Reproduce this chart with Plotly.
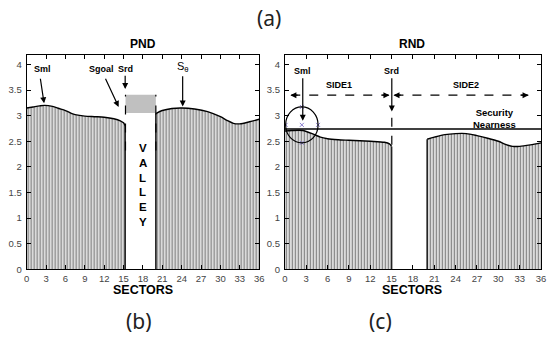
import plotly.graph_objects as go

# ---------------- data ----------------
x_ticks = [0, 3, 6, 9, 12, 15, 18, 21, 24, 27, 30, 33, 36]
y_ticks = [0, 0.5, 1, 1.5, 2, 2.5, 3, 3.5, 4]
y_tick_labels = ["0", "0.5", "1", "1.5", "2", "2.5", "3", "3.5", "4"]

# PND (b)
pnd_sectors_1 = [0, 1, 2, 2.8, 4, 5, 6, 7, 7.5, 9, 10.5, 12, 13.5, 14.5, 15, 15.25]
pnd_values_1 = [3.15, 3.17, 3.19, 3.20, 3.18, 3.14, 3.10, 3.04, 3.02, 2.99, 2.98, 2.97, 2.94, 2.90, 2.86, 2.80]
pnd_sectors_2 = [20.0, 21, 22.5, 24, 26, 28, 30, 31, 32, 33, 34.5, 36]
pnd_values_2 = [3.04, 3.10, 3.14, 3.15, 3.13, 3.08, 2.98, 2.91, 2.85, 2.84, 2.88, 2.93]

# RND (c)
rnd_sectors_1 = [0, 1, 2.5, 4, 5, 6, 7.5, 9, 12, 14, 14.7, 15]
rnd_values_1 = [2.70, 2.71, 2.71, 2.64, 2.58, 2.55, 2.53, 2.52, 2.50, 2.48, 2.45, 2.40]
rnd_sectors_2 = [20, 21, 22.5, 24, 25.5, 27, 28.5, 30, 31, 32, 33, 34.5, 36]
rnd_values_2 = [2.54, 2.58, 2.63, 2.65, 2.65, 2.61, 2.56, 2.50, 2.44, 2.40, 2.40, 2.43, 2.47]

security_nearness = 2.74
valley_letters = ["V", "A", "L", "L", "E", "Y"]

# --------------- figure ---------------
W, H = 549, 348
FONT = "Liberation Sans, Arial, sans-serif"
fig = go.Figure()

pattern = dict(shape="|", size=3, solidity=0.45, fgcolor="#111111", bgcolor="#ececec")

def add_segment(xs, ys, xa, ya):
    fig.add_trace(go.Scatter(
        x=xs, y=ys, xaxis=xa, yaxis=ya, mode="lines",
        line=dict(color="black", width=1.4, shape="spline", smoothing=0.8),
        fill="tozeroy", fillcolor="#ececec", fillpattern=pattern,
        hoverinfo="skip", showlegend=False))

add_segment(pnd_sectors_1, pnd_values_1, "x", "y")
add_segment(pnd_sectors_2, pnd_values_2, "x", "y")
add_segment(rnd_sectors_1, rnd_values_1, "x2", "y2")
add_segment(rnd_sectors_2, rnd_values_2, "x2", "y2")

# purple selection marks around the circle
circ_cx, circ_cy, circ_rx, circ_ry = 2.39, 2.82, 2.28, 0.35
fig.add_trace(go.Scatter(
    x=[circ_cx, circ_cx, circ_cx - circ_rx, circ_cx + circ_rx, circ_cx],
    y=[circ_cy + circ_ry, circ_cy - circ_ry, circ_cy, circ_cy, circ_cy],
    xaxis="x2", yaxis="y2", mode="markers",
    marker=dict(symbol="x-thin", size=4, line=dict(color="#8a7fd0", width=1)),
    hoverinfo="skip", showlegend=False))

shapes = []
# edge lines of segments
for xs, ys, xr, yr in [(pnd_sectors_1, pnd_values_1, "x", "y"), (pnd_sectors_2, pnd_values_2, "x", "y"),
                       (rnd_sectors_1, rnd_values_1, "x2", "y2"), (rnd_sectors_2, rnd_values_2, "x2", "y2")]:
    for i in (0, -1):
        if 0 < xs[i] < 36:
            shapes.append(dict(type="line", xref=xr, yref=yr, x0=xs[i], x1=xs[i], y0=0, y1=ys[i],
                               line=dict(color="#222", width=1.6)))

# valley (PND)
shapes.append(dict(type="rect", xref="x", yref="y", x0=15.3, x1=20.0, y0=3.05, y1=3.41,
                   fillcolor="#c0c0c0", line=dict(width=0), layer="below"))
for xv in (15.3, 20.0):
    shapes.append(dict(type="line", xref="x", yref="y", x0=xv, x1=xv, y0=2.32, y1=3.41,
                       line=dict(color="black", width=1.2, dash="dash")))

# RND extras
shapes.append(dict(type="line", xref="x2", yref="y2", x0=0, x1=36, y0=security_nearness, y1=security_nearness,
                   line=dict(color="black", width=1.3)))
shapes.append(dict(type="line", xref="x2", yref="y2", x0=15.03, x1=15.03, y0=2.43, y1=3.1,
                   line=dict(color="black", width=1.2, dash="dash")))
shapes.append(dict(type="circle", xref="x2", yref="y2",
                   x0=circ_cx - circ_rx, x1=circ_cx + circ_rx, y0=circ_cy - circ_ry, y1=circ_cy + circ_ry,
                   line=dict(color="black", width=1.2)))
for xa, xb in [(0.9, 14.6), (15.4, 34.2)]:
    shapes.append(dict(type="line", xref="x2", yref="y2", x0=xa, x1=xb, y0=3.40, y1=3.40,
                       line=dict(color="black", width=1.2, dash="dash")))

ann = []
def label(x, y, text, xr="x", yr="y", size=9, bold=True, family=FONT):
    ann.append(dict(x=x, y=y, xref=xr, yref=yr, text=f"<b>{text}</b>" if bold else text,
                    showarrow=False, font=dict(family=family, size=size, color="#000000")))

def arrow(x, y, ax, ay, xr="x", yr="y"):
    ann.append(dict(x=x, y=y, ax=ax, ay=ay, xref=xr, yref=yr, axref=xr, ayref=yr, text="",
                    showarrow=True, arrowhead=2, arrowsize=1, arrowwidth=1.2, arrowcolor="black",
                    standoff=0, startstandoff=0))

# PND labels
label(2.44, 3.92, "Sml")
arrow(2.7, 3.24, 2.09, 3.75)
label(11.6, 3.92, "Sgoal")
arrow(14.24, 3.17, 12.1, 3.75)
label(15.3, 3.92, "Srd")
arrow(15.25, 3.52, 15.25, 3.81)
label(24.15, 3.95, "S<sub>θ</sub>", bold=False, size=11, family="Liberation Sans, Arial, sans-serif")
arrow(24.15, 3.18, 24.15, 3.80)
for i, ch in enumerate(valley_letters):
    label(17.95, 2.36 - i * 0.286, ch, size=11.5)

# RND labels
label(2.52, 3.87, "Sml", "x2", "y2")
arrow(2.52, 2.9, 2.52, 3.76, "x2", "y2")
label(15.03, 3.87, "Srd", "x2", "y2")
arrow(15.03, 3.08, 15.03, 3.76, "x2", "y2")
label(7.6, 3.59, "SIDE1", "x2", "y2")
label(25.4, 3.59, "SIDE2", "x2", "y2")
arrow(0.78, 3.40, 2.0, 3.40, "x2", "y2")
arrow(14.7, 3.40, 13.5, 3.40, "x2", "y2")
arrow(15.27, 3.40, 16.5, 3.40, "x2", "y2")
arrow(34.25, 3.40, 33.0, 3.40, "x2", "y2")
label(29.5, 2.95, "Security<br>Nearness", "x2", "y2", size=9.5)

# titles and panel labels (paper coords from pixels)
def plabel(px, py, text, size, bold=True, family=FONT, color="black"):
    ann.append(dict(x=px / W, y=1 - py / H, xref="paper", yref="paper", text=f"<b>{text}</b>" if bold else text,
                    showarrow=False, xanchor="center", yanchor="middle",
                    font=dict(family=family, size=size, color=color)))

plabel(142, 45, "PND", 12)
plabel(415, 45, "RND", 12)
plabel(142, 294, "SECTORS", 12.5)
plabel(415, 294, "SECTORS", 12.5)
plabel(270, 18, "(a)", 21, bold=False, family="Noto Sans, sans-serif", color="#222")
plabel(138, 326, "(b)", 21, bold=False, family="Noto Sans, sans-serif", color="#222")
plabel(383, 326, "(c)", 21, bold=False, family="Noto Sans, sans-serif", color="#222")

y_dom = [(H - 273.3) / H, (H - 56) / H]
axis_common = dict(showline=True, mirror="ticks", linecolor="black", linewidth=1,
                   ticks="inside", ticklen=4, tickcolor="black", tickwidth=1,
                   showgrid=False, zeroline=False, fixedrange=True, ticklabeloverflow="allow",
                   tickfont=dict(family=FONT, size=9.5, color="#444"))
xax = dict(axis_common, range=[0, 36], tickvals=x_ticks, ticktext=[str(v) for v in x_ticks])
yax = dict(axis_common, range=[0, 4.18], tickvals=y_ticks, ticktext=y_tick_labels, ticklabelstandoff=2)

fig.update_layout(
    width=W, height=H, margin=dict(l=0, r=0, t=0, b=0),
    paper_bgcolor="white", plot_bgcolor="white",
    xaxis=dict(xax, domain=[24 / W, 260 / W], anchor="y"),
    yaxis=dict(yax, domain=y_dom, anchor="x"),
    xaxis2=dict(xax, domain=[286 / W, 546 / W], anchor="y2"),
    yaxis2=dict(yax, domain=y_dom, anchor="x2"),
    shapes=shapes, annotations=ann, showlegend=False,
)

# remove the default page margin so the figure sits at the window's top-left corner
fig.write_html("out.html", config={"displayModeBar": False},
               post_script="document.body.style.margin='0px';")
